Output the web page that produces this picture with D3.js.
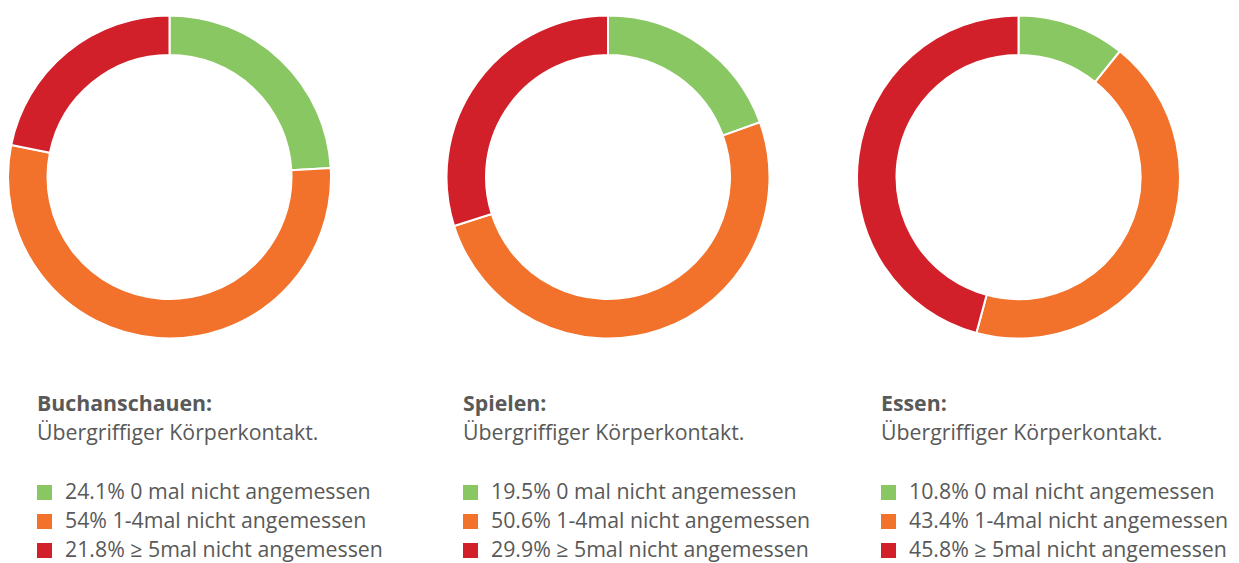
<!DOCTYPE html>
<html>
<head>
<meta charset="utf-8">
<script src="https://cdn.jsdelivr.net/npm/d3@7"></script>
<style>
  body { margin: 0; background: #fff; }
  text { font-family: "Open Sans", "Noto Sans", sans-serif; fill: #595959; }
</style>
</head>
<body>
<div id="container"></div>
<script>
/* DATA */
const titles = ["Buchanschauen:", "Spielen:", "Essen:"];
const subtitle = "Übergriffiger Körperkontakt.";
const categories = ["0 mal nicht angemessen", "1-4mal nicht angemessen", "≥ 5mal nicht angemessen"];
const buchanschauen = [24.1, 54, 21.8];
const spielen = [19.5, 50.6, 29.9];
const essen = [10.8, 43.4, 45.8];
const colors = ["#89c763", "#f2712b", "#d2202a"];

/* CONSTANTS */
const width = 1239;
const height = 563;
const centersX = [169.5, 608, 1018.5];
const centerY = 177;
const outerR = 161.5;
const innerR = 122;
const textX = [37, 463, 881];
const fontSize = "21.3px";

const svg = d3.select("#container")
  .append("svg")
  .attr("width", width)
  .attr("height", height);

const pie = d3.pie().sort(null).value(d => d);
const arc = d3.arc().innerRadius(innerR).outerRadius(outerR);
const color = d3.scaleOrdinal().domain(categories).range(colors);

[buchanschauen, spielen, essen].forEach((values, i) => {
  const g = svg.append("g")
    .attr("transform", `translate(${centersX[i]},${centerY})`);

  g.selectAll("path")
    .data(pie(values))
    .join("path")
    .attr("d", arc)
    .attr("fill", (d, j) => color(categories[j]))
    .attr("stroke", "#fff")
    .attr("stroke-width", 2);

  // title + subtitle
  const t = svg.append("g").attr("transform", `translate(${textX[i]},0)`);
  t.append("text")
    .attr("y", 411)
    .style("font-size", fontSize)
    .style("font-weight", "bold")
    .text(titles[i]);
  t.append("text")
    .attr("y", 440)
    .style("font-size", fontSize)
    .text(subtitle);

  // legend
  const rows = t.selectAll("g.row")
    .data(values)
    .join("g")
    .attr("class", "row")
    .attr("transform", (d, j) => `translate(0,${485 + j * 29})`);

  rows.append("rect")
    .attr("width", 15)
    .attr("height", 15)
    .attr("fill", (d, j) => color(categories[j]));

  rows.append("text")
    .attr("x", 28)
    .attr("y", 14)
    .style("font-size", fontSize)
    .text((d, j) => `${d}% ${categories[j]}`);
});
</script>
</body>
</html>
